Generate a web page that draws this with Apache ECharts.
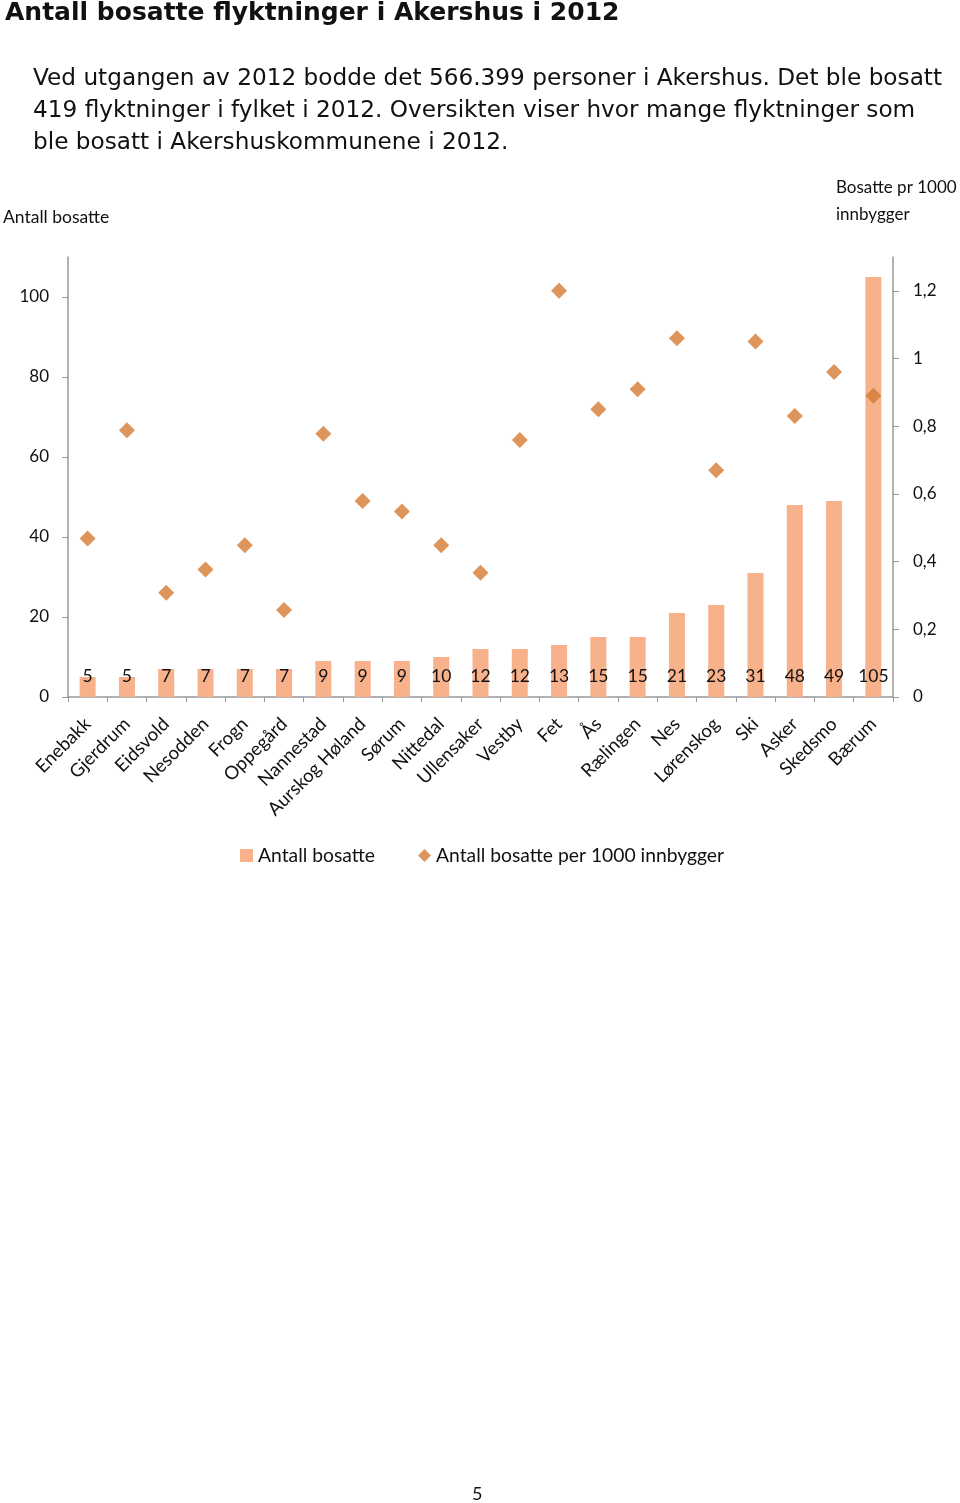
<!DOCTYPE html>
<html><head><meta charset="utf-8">
<script src="https://cdn.jsdelivr.net/npm/echarts@6/dist/echarts.min.js"></script>
<style>html,body{margin:0;padding:0;background:#fff}#c{width:960px;height:1503px}</style>
</head><body><div id="c"></div>
<script>
const categories = ['Enebakk','Gjerdrum','Eidsvold','Nesodden','Frogn','Oppegård','Nannestad','Aurskog Høland','Sørum','Nittedal','Ullensaker','Vestby','Fet','Ås','Rælingen','Nes','Lørenskog','Ski','Asker','Skedsmo','Bærum'];
const antallBosatte = [5,5,7,7,7,7,9,9,9,10,12,12,13,15,15,21,23,31,48,49,105];
const perTusen = [0.468,0.788,0.308,0.377,0.448,0.257,0.778,0.579,0.548,0.448,0.367,0.759,1.2,0.85,0.909,1.06,0.67,1.05,0.83,0.96,0.89];
const leftTicks = [0,20,40,60,80,100];
const rightTicks = [0,0.2,0.4,0.6,0.8,1.0,1.2];

const FONT = 'Lato';
const chart = echarts.init(document.getElementById('c'), null, {renderer:'canvas'});
chart.setOption({
  animation:false,
  textStyle:{fontFamily:FONT},
  graphic:[
    {type:'text', left:5, top:1, style:{text:'Antall bosatte flyktninger i Akershus i 2012', font:'bold 25px "DejaVu Sans"', fill:'#111'}},
    {type:'text', left:33, top:63, style:{text:'Ved utgangen av 2012 bodde det 566.399 personer i Akershus. Det ble bosatt\n419 flyktninger i fylket i 2012. Oversikten viser hvor mange flyktninger som\nble bosatt i Akershuskommunene i 2012.', font:'23.2px "DejaVu Sans"', lineHeight:32, fill:'#111'}},
    {type:'text', left:3, top:208, style:{text:'Antall bosatte', font:'17.5px '+FONT, fill:'#111'}},
    {type:'text', left:836, top:174, style:{text:'Bosatte pr 1000\ninnbygger', font:'17px '+FONT, lineHeight:27, fill:'#111'}},
    {type:'text', left:472, top:1485, style:{text:'5', font:'18px '+FONT, fill:'#111'}}
  ],
  legend:{
    left:235, top:841, itemWidth:13, itemHeight:13, itemGap:43,
    textStyle:{fontSize:19.3, color:'#111', fontFamily:FONT},
    data:[{name:'Antall bosatte', icon:'rect'},{name:'Antall bosatte per 1000 innbygger', icon:'diamond'}]
  },
  grid:{left:68, right:67, top:257, bottom:806, containLabel:false},
  xAxis:{
    type:'category', data:categories,
    axisLine:{lineStyle:{color:'#999', width:1.5}},
    axisTick:{show:true, length:5, lineStyle:{color:'#999'}},
    axisLabel:{interval:0, rotate:45, fontSize:18.5, color:'#111', margin:24, fontFamily:FONT}
  },
  yAxis:[
    {type:'value', min:0, max:110, interval:10, position:'left',
     splitLine:{show:false},
     axisLine:{show:true, lineStyle:{color:'#999', width:1.5}},
     axisTick:{show:true, length:6, lineStyle:{color:'#999'}, customValues:leftTicks},
     axisLabel:{fontSize:17, color:'#111', margin:19, customValues:leftTicks, fontFamily:FONT}
    },
    {type:'value', min:0, max:1.3, interval:0.1, position:'right',
     splitLine:{show:false},
     axisLine:{show:true, lineStyle:{color:'#999', width:1.5}},
     axisTick:{show:true, length:6, lineStyle:{color:'#999'}, customValues:rightTicks},
     axisLabel:{fontSize:17, color:'#111', margin:20, customValues:rightTicks, fontFamily:FONT,
       formatter:v=>String(Math.round(v*10)/10).replace('.',',')}
    }
  ],
  series:[
    {name:'Antall bosatte', type:'bar', data:antallBosatte, yAxisIndex:0, barWidth:16,
     itemStyle:{color:'#F7B18B'},
     label:{show:true, position:'insideBottom', distance:12, fontSize:17.5, color:'#111', fontFamily:FONT}
    },
    {name:'Antall bosatte per 1000 innbygger', type:'scatter', data:perTusen, yAxisIndex:1,
     symbol:'diamond', symbolSize:16, itemStyle:{color:'#D57A33'}
    }
  ]
});
</script></body></html>
